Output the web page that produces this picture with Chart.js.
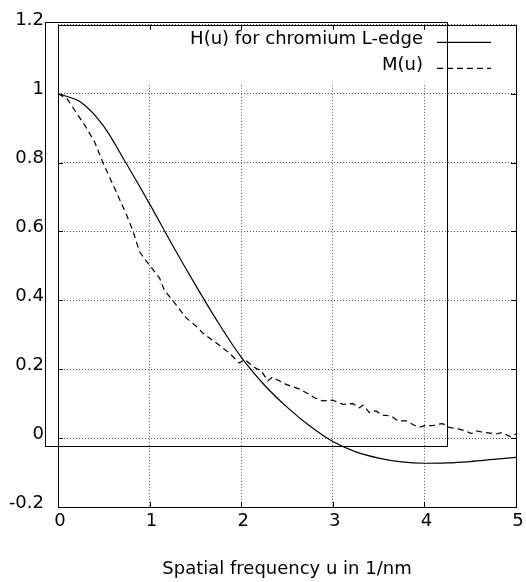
<!DOCTYPE html>
<html>
<head>
<meta charset="utf-8">
<script src="https://cdn.jsdelivr.net/npm/chart.js@4.4.1/dist/chart.umd.min.js"></script>
<style>
  html, body { margin: 0; padding: 0; background: #fff; }
  canvas { display: block; }
</style>
</head>
<body>
<canvas id="chart" width="526" height="582"></canvas>
<script>
// H(u), sampled every 0.25 1/nm
const hU = [0, 0.25, 0.5, 0.75, 1, 1.25, 1.5, 1.75, 2, 2.25, 2.5, 2.75, 3, 3.25, 3.5, 3.75, 4, 4.25, 4.5, 4.75, 5];
const hVal = [1.0, 0.975, 0.905, 0.795, 0.68, 0.56, 0.445, 0.335, 0.235, 0.155, 0.09, 0.035, -0.01, -0.04, -0.058, -0.069, -0.073, -0.072, -0.068, -0.062, -0.056];

// M(u), noisy measured curve
const mU = [0, 0.1, 0.2, 0.3, 0.4, 0.49, 0.62, 0.75, 0.82, 0.89, 0.99, 1.11, 1.16, 1.29, 1.4, 1.53, 1.58, 1.73, 1.87, 1.98, 2.04, 2.14, 2.22, 2.29, 2.34, 2.49, 2.64, 2.74, 2.8, 2.89, 3.0, 3.11, 3.22, 3.29, 3.33, 3.4, 3.47, 3.54, 3.64, 3.71, 3.8, 3.87, 3.94, 4.0, 4.09, 4.14, 4.2, 4.27, 4.38, 4.45, 4.51, 4.56, 4.67, 4.78, 4.85, 4.94, 5.0];
const mVal = [1.0, 0.985, 0.945, 0.905, 0.86, 0.8, 0.724, 0.647, 0.6, 0.541, 0.505, 0.464, 0.43, 0.387, 0.349, 0.32, 0.305, 0.276, 0.247, 0.218, 0.228, 0.206, 0.195, 0.166, 0.177, 0.156, 0.142, 0.127, 0.117, 0.108, 0.11, 0.098, 0.1, 0.088, 0.096, 0.074, 0.079, 0.067, 0.064, 0.05, 0.05, 0.04, 0.031, 0.036, 0.036, 0.04, 0.042, 0.031, 0.026, 0.021, 0.013, 0.021, 0.016, 0.012, 0.016, 0.004, 0.012];

const xTicks = [0, 1, 2, 3, 4, 5];
const yTicks = [-0.2, 0, 0.2, 0.4, 0.6, 0.8, 1, 1.2];

// the stray rectangle in the original, in data units
const boxU = [-0.145, 4.246];
const boxV = [-0.024, 1.209];

const FONT = { family: 'DejaVu Sans', size: 18 };

const gnuplotFrame = {
  id: 'gnuplotFrame',
  beforeDatasetsDraw(chart) {
    const { ctx, chartArea: a } = chart;
    // grid is blanked behind the key
    ctx.save();
    ctx.fillStyle = '#fff';
    ctx.fillRect(a.left + 1, a.top + 1, a.right - a.left - 2, 57);
    ctx.restore();
  },
  afterDatasetsDraw(chart) {
    const { ctx, chartArea: a, scales: { x, y } } = chart;
    ctx.save();
    ctx.strokeStyle = '#000';
    ctx.lineWidth = 1;
    ctx.setLineDash([]);

    // frame
    ctx.strokeRect(Math.round(a.left) + 0.5, Math.round(a.top) + 0.5,
      Math.round(a.right - a.left), Math.round(a.bottom - a.top));

    // inward ticks
    ctx.beginPath();
    xTicks.forEach(v => {
      const px = Math.round(x.getPixelForValue(v)) + 0.5;
      ctx.moveTo(px, a.bottom); ctx.lineTo(px, a.bottom - 5);
      ctx.moveTo(px, a.top); ctx.lineTo(px, a.top + 5);
    });
    yTicks.forEach(v => {
      const py = Math.round(y.getPixelForValue(v)) + 0.5;
      ctx.moveTo(a.left, py); ctx.lineTo(a.left + 5, py);
      ctx.moveTo(a.right, py); ctx.lineTo(a.right - 5, py);
    });
    ctx.stroke();

    // stray box
    const bx0 = Math.round(x.getPixelForValue(boxU[0])) + 0.5;
    const bx1 = Math.round(x.getPixelForValue(boxU[1])) + 0.5;
    const by0 = Math.round(y.getPixelForValue(boxV[1])) + 0.5;
    const by1 = Math.round(y.getPixelForValue(boxV[0])) + 0.5;
    ctx.strokeRect(bx0, by0, bx1 - bx0, by1 - by0);

    // key
    ctx.font = FONT.size + 'px "' + FONT.family + '"';
    ctx.fillStyle = '#000';
    ctx.textAlign = 'right';
    ctx.textBaseline = 'alphabetic';
    chart.data.datasets.forEach((ds, i) => {
      const base = a.top + 19 + i * 26;
      ctx.fillText(ds.label, a.right - 93, base);
      ctx.setLineDash(ds.borderDash || []);
      ctx.lineWidth = 1.2;
      ctx.beginPath();
      ctx.moveTo(a.right - 79, base - 1.5);
      ctx.lineTo(a.right - 25, base - 1.5);
      ctx.stroke();
    });
    ctx.restore();
  }
};

new Chart(document.getElementById('chart'), {
  type: 'line',
  data: {
    datasets: [
      {
        label: 'H(u) for chromium L-edge',
        data: hU.map((u, i) => ({ x: u, y: hVal[i] })),
        borderColor: '#000',
        borderWidth: 1.2,
        pointRadius: 0,
        cubicInterpolationMode: 'monotone',
        fill: false
      },
      {
        label: 'M(u)',
        data: mU.map((u, i) => ({ x: u, y: mVal[i] })),
        borderColor: '#000',
        borderWidth: 1.2,
        borderDash: [6, 4],
        pointRadius: 0,
        tension: 0,
        fill: false
      }
    ]
  },
  options: {
    responsive: false,
    animation: false,
    devicePixelRatio: 1,
    layout: { padding: { top: 22, right: 10, left: 0, bottom: 0 } },
    plugins: { legend: { display: false }, tooltip: { enabled: false } },
    scales: {
      x: {
        type: 'linear',
        min: 0,
        max: 5,
        afterFit: s => { s.height = 75; },
        afterBuildTicks: s => { s.ticks = xTicks.map(v => ({ value: v })); },
        grid: { color: '#555', drawTicks: false, lineWidth: 1 },
        border: { display: false, dash: [1, 2] },
        ticks: { color: '#000', font: FONT, padding: 4, labelOffset: 2, maxRotation: 0 },
        title: {
          display: true,
          text: 'Spatial frequency u in 1/nm',
          color: '#000',
          font: FONT,
          padding: { top: 0, bottom: 2 }
        }
      },
      y: {
        type: 'linear',
        min: -0.2,
        max: 1.2,
        afterFit: s => { s.width = 58; },
        afterBuildTicks: s => { s.ticks = yTicks.map(v => ({ value: v })); },
        grid: { color: '#555', drawTicks: false, lineWidth: 1 },
        border: { display: false, dash: [1, 2] },
        ticks: {
          color: '#000',
          font: FONT,
          padding: 14,
          labelOffset: -4,
          callback: v => String(Math.round(v * 10) / 10)
        }
      }
    }
  },
  plugins: [gnuplotFrame]
});
</script>
</body>
</html>
